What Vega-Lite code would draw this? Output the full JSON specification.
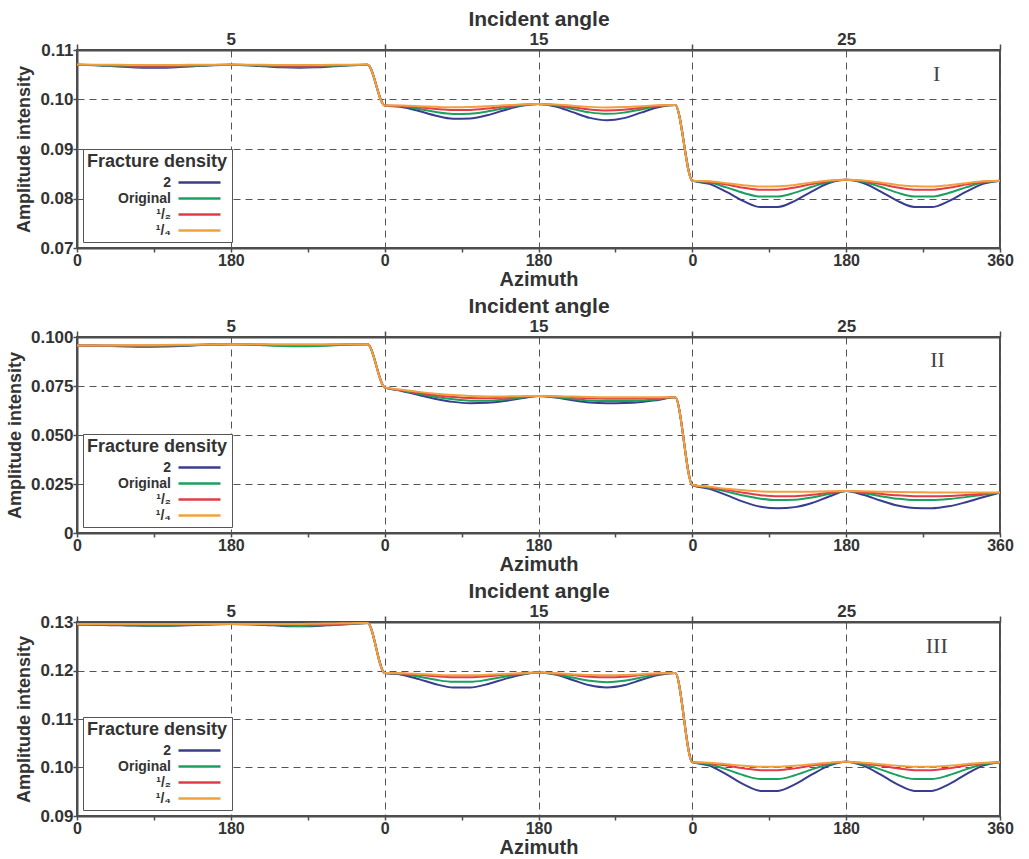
{
"$schema": "https://vega.github.io/schema/vega-lite/v6.json",
"background": "white",
"padding": {"left": 5, "top": 7, "right": 14, "bottom": 0},
"config": {
 "font": "Liberation Sans",
 "view": {"stroke": "#4d4d4d", "strokeWidth": 2},
 "concat": {"spacing": 4},
 "axis": {"domainColor": "#4d4d4d", "domainWidth": 2, "tickColor": "#4d4d4d", "tickWidth": 1.5, "tickSize": 4, "labelColor": "#333", "titleColor": "#333", "labelFont": "Liberation Sans", "titleFont": "Liberation Sans", "labelFontWeight": "bold", "titleFontWeight": "bold", "labelFontSize": 17, "labelPadding": 0, "gridColor": "#555", "gridDash": [7, 5], "gridWidth": 1, "labelOverlap": false, "labelFlush": false},
 "legend": {"orient": "bottom-left", "offset": 6, "titleFontSize": 18, "titleFontWeight": "bold", "titleColor": "#333", "titleFont": "Liberation Sans", "labelFont": "Liberation Sans", "labelFontSize": 14, "labelFontWeight": "bold", "labelColor": "#333", "symbolType": "M-3,0H3", "symbolStrokeWidth": 2.5, "symbolSize": 196, "symbolOffset": 104, "labelAlign": "right", "labelOffset": -37, "strokeColor": "#555", "fillColor": "white", "padding": 4, "rowPadding": 0, "titlePadding": 3}
},
"datasets": {
"p1": [
{"s":"2","x":0,"y":0.107},{"s":"2","x":20,"y":0.10693},{"s":"2","x":40,"y":0.10675},{"s":"2","x":60,"y":0.10655},{"s":"2","x":80,"y":0.10642},{"s":"2","x":100,"y":0.10642},{"s":"2","x":120,"y":0.10655},{"s":"2","x":140,"y":0.10675},{"s":"2","x":160,"y":0.10693},{"s":"2","x":180,"y":0.107},{"s":"2","x":200,"y":0.10691},{"s":"2","x":220,"y":0.1067},{"s":"2","x":240,"y":0.10649},{"s":"2","x":260,"y":0.1064},{"s":"2","x":280,"y":0.10649},{"s":"2","x":300,"y":0.1067},{"s":"2","x":320,"y":0.10691},{"s":"2","x":340,"y":0.107},
{"s":"2","x":360,"y":0.0988},{"s":"2","x":380,"y":0.09849},{"s":"2","x":400,"y":0.09767},{"s":"2","x":420,"y":0.09672},{"s":"2","x":440,"y":0.09612},{"s":"2","x":460,"y":0.09616},{"s":"2","x":480,"y":0.09682},{"s":"2","x":500,"y":0.09783},{"s":"2","x":520,"y":0.09873},{"s":"2","x":540,"y":0.0991},{"s":"2","x":560,"y":0.0986},{"s":"2","x":580,"y":0.09745},{"s":"2","x":600,"y":0.09629},{"s":"2","x":620,"y":0.0958},{"s":"2","x":640,"y":0.09624},{"s":"2","x":660,"y":0.09735},{"s":"2","x":680,"y":0.09845},{"s":"2","x":700,"y":0.0989},
{"s":"2","x":720,"y":0.0836},{"s":"2","x":740,"y":0.08296},{"s":"2","x":760,"y":0.08133},{"s":"2","x":780,"y":0.07947},{"s":"2","x":800,"y":0.07826},{"s":"2","x":820,"y":0.07828},{"s":"2","x":840,"y":0.07953},{"s":"2","x":860,"y":0.08145},{"s":"2","x":880,"y":0.08312},{"s":"2","x":900,"y":0.0838},{"s":"2","x":920,"y":0.08312},{"s":"2","x":940,"y":0.08145},{"s":"2","x":960,"y":0.07953},{"s":"2","x":980,"y":0.07828},{"s":"2","x":1000,"y":0.07826},{"s":"2","x":1020,"y":0.07947},{"s":"2","x":1040,"y":0.08133},{"s":"2","x":1060,"y":0.08296},{"s":"2","x":1080,"y":0.0836},
{"s":"Original","x":0,"y":0.107},{"s":"Original","x":20,"y":0.10695},{"s":"Original","x":40,"y":0.10683},{"s":"Original","x":60,"y":0.1067},{"s":"Original","x":80,"y":0.10661},{"s":"Original","x":100,"y":0.10661},{"s":"Original","x":120,"y":0.1067},{"s":"Original","x":140,"y":0.10683},{"s":"Original","x":160,"y":0.10695},{"s":"Original","x":180,"y":0.107},{"s":"Original","x":200,"y":0.10694},{"s":"Original","x":220,"y":0.1068},{"s":"Original","x":240,"y":0.10666},{"s":"Original","x":260,"y":0.1066},{"s":"Original","x":280,"y":0.10666},{"s":"Original","x":300,"y":0.1068},{"s":"Original","x":320,"y":0.10694},{"s":"Original","x":340,"y":0.107},
{"s":"Original","x":360,"y":0.0988},{"s":"Original","x":380,"y":0.09861},{"s":"Original","x":400,"y":0.09809},{"s":"Original","x":420,"y":0.09747},{"s":"Original","x":440,"y":0.09709},{"s":"Original","x":460,"y":0.09713},{"s":"Original","x":480,"y":0.09757},{"s":"Original","x":500,"y":0.09825},{"s":"Original","x":520,"y":0.09885},{"s":"Original","x":540,"y":0.0991},{"s":"Original","x":560,"y":0.09879},{"s":"Original","x":580,"y":0.0981},{"s":"Original","x":600,"y":0.0974},{"s":"Original","x":620,"y":0.0971},{"s":"Original","x":640,"y":0.09735},{"s":"Original","x":660,"y":0.098},{"s":"Original","x":680,"y":0.09864},{"s":"Original","x":700,"y":0.0989},
{"s":"Original","x":720,"y":0.0836},{"s":"Original","x":740,"y":0.08322},{"s":"Original","x":760,"y":0.08224},{"s":"Original","x":780,"y":0.08112},{"s":"Original","x":800,"y":0.08039},{"s":"Original","x":820,"y":0.08041},{"s":"Original","x":840,"y":0.08118},{"s":"Original","x":860,"y":0.08236},{"s":"Original","x":880,"y":0.08338},{"s":"Original","x":900,"y":0.0838},{"s":"Original","x":920,"y":0.08338},{"s":"Original","x":940,"y":0.08236},{"s":"Original","x":960,"y":0.08118},{"s":"Original","x":980,"y":0.08041},{"s":"Original","x":1000,"y":0.08039},{"s":"Original","x":1020,"y":0.08112},{"s":"Original","x":1040,"y":0.08224},{"s":"Original","x":1060,"y":0.08322},{"s":"Original","x":1080,"y":0.0836},
{"s":"¹/₂","x":0,"y":0.107},{"s":"¹/₂","x":20,"y":0.10698},{"s":"¹/₂","x":40,"y":0.10692},{"s":"¹/₂","x":60,"y":0.10685},{"s":"¹/₂","x":80,"y":0.10681},{"s":"¹/₂","x":100,"y":0.10681},{"s":"¹/₂","x":120,"y":0.10685},{"s":"¹/₂","x":140,"y":0.10692},{"s":"¹/₂","x":160,"y":0.10698},{"s":"¹/₂","x":180,"y":0.107},{"s":"¹/₂","x":200,"y":0.10697},{"s":"¹/₂","x":220,"y":0.1069},{"s":"¹/₂","x":240,"y":0.10683},{"s":"¹/₂","x":260,"y":0.1068},{"s":"¹/₂","x":280,"y":0.10683},{"s":"¹/₂","x":300,"y":0.1069},{"s":"¹/₂","x":320,"y":0.10697},{"s":"¹/₂","x":340,"y":0.107},
{"s":"¹/₂","x":360,"y":0.0988},{"s":"¹/₂","x":380,"y":0.0987},{"s":"¹/₂","x":400,"y":0.09842},{"s":"¹/₂","x":420,"y":0.09807},{"s":"¹/₂","x":440,"y":0.09786},{"s":"¹/₂","x":460,"y":0.0979},{"s":"¹/₂","x":480,"y":0.09817},{"s":"¹/₂","x":500,"y":0.09858},{"s":"¹/₂","x":520,"y":0.09894},{"s":"¹/₂","x":540,"y":0.0991},{"s":"¹/₂","x":560,"y":0.09889},{"s":"¹/₂","x":580,"y":0.09845},{"s":"¹/₂","x":600,"y":0.098},{"s":"¹/₂","x":620,"y":0.0978},{"s":"¹/₂","x":640,"y":0.09795},{"s":"¹/₂","x":660,"y":0.09835},{"s":"¹/₂","x":680,"y":0.09874},{"s":"¹/₂","x":700,"y":0.0989},
{"s":"¹/₂","x":720,"y":0.0836},{"s":"¹/₂","x":740,"y":0.08339},{"s":"¹/₂","x":760,"y":0.08281},{"s":"¹/₂","x":780,"y":0.08217},{"s":"¹/₂","x":800,"y":0.08175},{"s":"¹/₂","x":820,"y":0.08177},{"s":"¹/₂","x":840,"y":0.08223},{"s":"¹/₂","x":860,"y":0.08293},{"s":"¹/₂","x":880,"y":0.08355},{"s":"¹/₂","x":900,"y":0.0838},{"s":"¹/₂","x":920,"y":0.08355},{"s":"¹/₂","x":940,"y":0.08293},{"s":"¹/₂","x":960,"y":0.08223},{"s":"¹/₂","x":980,"y":0.08177},{"s":"¹/₂","x":1000,"y":0.08175},{"s":"¹/₂","x":1020,"y":0.08217},{"s":"¹/₂","x":1040,"y":0.08281},{"s":"¹/₂","x":1060,"y":0.08339},{"s":"¹/₂","x":1080,"y":0.0836},
{"s":"¹/₄","x":0,"y":0.10705},{"s":"¹/₄","x":20,"y":0.10704},{"s":"¹/₄","x":40,"y":0.10701},{"s":"¹/₄","x":60,"y":0.10698},{"s":"¹/₄","x":80,"y":0.10695},{"s":"¹/₄","x":100,"y":0.10695},{"s":"¹/₄","x":120,"y":0.10698},{"s":"¹/₄","x":140,"y":0.10701},{"s":"¹/₄","x":160,"y":0.10704},{"s":"¹/₄","x":180,"y":0.10705},{"s":"¹/₄","x":200,"y":0.10704},{"s":"¹/₄","x":220,"y":0.107},{"s":"¹/₄","x":240,"y":0.10696},{"s":"¹/₄","x":260,"y":0.10695},{"s":"¹/₄","x":280,"y":0.10696},{"s":"¹/₄","x":300,"y":0.107},{"s":"¹/₄","x":320,"y":0.10704},{"s":"¹/₄","x":340,"y":0.10705},
{"s":"¹/₄","x":360,"y":0.0988},{"s":"¹/₄","x":380,"y":0.09877},{"s":"¹/₄","x":400,"y":0.09866},{"s":"¹/₄","x":420,"y":0.09852},{"s":"¹/₄","x":440,"y":0.09844},{"s":"¹/₄","x":460,"y":0.09848},{"s":"¹/₄","x":480,"y":0.09862},{"s":"¹/₄","x":500,"y":0.09882},{"s":"¹/₄","x":520,"y":0.09901},{"s":"¹/₄","x":540,"y":0.0991},{"s":"¹/₄","x":560,"y":0.09898},{"s":"¹/₄","x":580,"y":0.09875},{"s":"¹/₄","x":600,"y":0.09851},{"s":"¹/₄","x":620,"y":0.0984},{"s":"¹/₄","x":640,"y":0.09846},{"s":"¹/₄","x":660,"y":0.09865},{"s":"¹/₄","x":680,"y":0.09883},{"s":"¹/₄","x":700,"y":0.0989},
{"s":"¹/₄","x":720,"y":0.0836},{"s":"¹/₄","x":740,"y":0.08347},{"s":"¹/₄","x":760,"y":0.0831},{"s":"¹/₄","x":780,"y":0.08269},{"s":"¹/₄","x":800,"y":0.08243},{"s":"¹/₄","x":820,"y":0.08245},{"s":"¹/₄","x":840,"y":0.08275},{"s":"¹/₄","x":860,"y":0.08322},{"s":"¹/₄","x":880,"y":0.08363},{"s":"¹/₄","x":900,"y":0.0838},{"s":"¹/₄","x":920,"y":0.08363},{"s":"¹/₄","x":940,"y":0.08322},{"s":"¹/₄","x":960,"y":0.08275},{"s":"¹/₄","x":980,"y":0.08245},{"s":"¹/₄","x":1000,"y":0.08243},{"s":"¹/₄","x":1020,"y":0.08269},{"s":"¹/₄","x":1040,"y":0.0831},{"s":"¹/₄","x":1060,"y":0.08347},{"s":"¹/₄","x":1080,"y":0.0836}
],
"p2": [
{"s":"2","x":0,"y":0.0956},{"s":"2","x":20,"y":0.09557},{"s":"2","x":40,"y":0.09539},{"s":"2","x":60,"y":0.09515},{"s":"2","x":80,"y":0.09504},{"s":"2","x":100,"y":0.09512},{"s":"2","x":120,"y":0.09539},{"s":"2","x":140,"y":0.09577},{"s":"2","x":160,"y":0.09611},{"s":"2","x":180,"y":0.0963},{"s":"2","x":200,"y":0.09618},{"s":"2","x":220,"y":0.0959},{"s":"2","x":240,"y":0.09562},{"s":"2","x":260,"y":0.0955},{"s":"2","x":280,"y":0.09562},{"s":"2","x":300,"y":0.0959},{"s":"2","x":320,"y":0.09618},{"s":"2","x":340,"y":0.0963},
{"s":"2","x":360,"y":0.0743},{"s":"2","x":380,"y":0.0725},{"s":"2","x":400,"y":0.0704},{"s":"2","x":420,"y":0.0684},{"s":"2","x":440,"y":0.0669},{"s":"2","x":460,"y":0.0662},{"s":"2","x":480,"y":0.0664},{"s":"2","x":500,"y":0.0673},{"s":"2","x":520,"y":0.0687},{"s":"2","x":540,"y":0.0699},{"s":"2","x":560,"y":0.0691},{"s":"2","x":580,"y":0.0677},{"s":"2","x":600,"y":0.0666},{"s":"2","x":620,"y":0.0662},{"s":"2","x":640,"y":0.0663},{"s":"2","x":660,"y":0.0668},{"s":"2","x":680,"y":0.0679},{"s":"2","x":700,"y":0.0692},
{"s":"2","x":720,"y":0.0245},{"s":"2","x":740,"y":0.0225},{"s":"2","x":760,"y":0.0193},{"s":"2","x":780,"y":0.0159},{"s":"2","x":800,"y":0.0134},{"s":"2","x":820,"y":0.0126},{"s":"2","x":840,"y":0.0132},{"s":"2","x":860,"y":0.0153},{"s":"2","x":880,"y":0.0186},{"s":"2","x":900,"y":0.0214},{"s":"2","x":920,"y":0.0195},{"s":"2","x":940,"y":0.0166},{"s":"2","x":960,"y":0.014},{"s":"2","x":980,"y":0.0127},{"s":"2","x":1000,"y":0.0126},{"s":"2","x":1020,"y":0.0136},{"s":"2","x":1040,"y":0.0157},{"s":"2","x":1060,"y":0.0182},{"s":"2","x":1080,"y":0.0206},
{"s":"Original","x":0,"y":0.0956},{"s":"Original","x":20,"y":0.09561},{"s":"Original","x":40,"y":0.09551},{"s":"Original","x":60,"y":0.09538},{"s":"Original","x":80,"y":0.09533},{"s":"Original","x":100,"y":0.09541},{"s":"Original","x":120,"y":0.09562},{"s":"Original","x":140,"y":0.09589},{"s":"Original","x":160,"y":0.09615},{"s":"Original","x":180,"y":0.0963},{"s":"Original","x":200,"y":0.09615},{"s":"Original","x":220,"y":0.0958},{"s":"Original","x":240,"y":0.09545},{"s":"Original","x":260,"y":0.0953},{"s":"Original","x":280,"y":0.09545},{"s":"Original","x":300,"y":0.0958},{"s":"Original","x":320,"y":0.09615},{"s":"Original","x":340,"y":0.0963},
{"s":"Original","x":360,"y":0.0743},{"s":"Original","x":380,"y":0.0727},{"s":"Original","x":400,"y":0.071},{"s":"Original","x":420,"y":0.0694},{"s":"Original","x":440,"y":0.0682},{"s":"Original","x":460,"y":0.0675},{"s":"Original","x":480,"y":0.0675},{"s":"Original","x":500,"y":0.0681},{"s":"Original","x":520,"y":0.0691},{"s":"Original","x":540,"y":0.0699},{"s":"Original","x":560,"y":0.0694},{"s":"Original","x":580,"y":0.0684},{"s":"Original","x":600,"y":0.0676},{"s":"Original","x":620,"y":0.0673},{"s":"Original","x":640,"y":0.0673},{"s":"Original","x":660,"y":0.0676},{"s":"Original","x":680,"y":0.0683},{"s":"Original","x":700,"y":0.0692},
{"s":"Original","x":720,"y":0.0245},{"s":"Original","x":740,"y":0.0231},{"s":"Original","x":760,"y":0.0211},{"s":"Original","x":780,"y":0.0191},{"s":"Original","x":800,"y":0.0175},{"s":"Original","x":820,"y":0.0168},{"s":"Original","x":840,"y":0.017},{"s":"Original","x":860,"y":0.0181},{"s":"Original","x":880,"y":0.0199},{"s":"Original","x":900,"y":0.0214},{"s":"Original","x":920,"y":0.0204},{"s":"Original","x":940,"y":0.0188},{"s":"Original","x":960,"y":0.0175},{"s":"Original","x":980,"y":0.0168},{"s":"Original","x":1000,"y":0.0168},{"s":"Original","x":1020,"y":0.0173},{"s":"Original","x":1040,"y":0.0183},{"s":"Original","x":1060,"y":0.0195},{"s":"Original","x":1080,"y":0.0206},
{"s":"¹/₂","x":0,"y":0.0956},{"s":"¹/₂","x":20,"y":0.09564},{"s":"¹/₂","x":40,"y":0.09564},{"s":"¹/₂","x":60,"y":0.0956},{"s":"¹/₂","x":80,"y":0.09562},{"s":"¹/₂","x":100,"y":0.0957},{"s":"¹/₂","x":120,"y":0.09584},{"s":"¹/₂","x":140,"y":0.09602},{"s":"¹/₂","x":160,"y":0.09618},{"s":"¹/₂","x":180,"y":0.0963},{"s":"¹/₂","x":200,"y":0.09626},{"s":"¹/₂","x":220,"y":0.09615},{"s":"¹/₂","x":240,"y":0.09604},{"s":"¹/₂","x":260,"y":0.096},{"s":"¹/₂","x":280,"y":0.09604},{"s":"¹/₂","x":300,"y":0.09615},{"s":"¹/₂","x":320,"y":0.09626},{"s":"¹/₂","x":340,"y":0.0963},
{"s":"¹/₂","x":360,"y":0.0743},{"s":"¹/₂","x":380,"y":0.0729},{"s":"¹/₂","x":400,"y":0.0715},{"s":"¹/₂","x":420,"y":0.0703},{"s":"¹/₂","x":440,"y":0.0694},{"s":"¹/₂","x":460,"y":0.0689},{"s":"¹/₂","x":480,"y":0.0688},{"s":"¹/₂","x":500,"y":0.069},{"s":"¹/₂","x":520,"y":0.0695},{"s":"¹/₂","x":540,"y":0.0699},{"s":"¹/₂","x":560,"y":0.0696},{"s":"¹/₂","x":580,"y":0.0691},{"s":"¹/₂","x":600,"y":0.0687},{"s":"¹/₂","x":620,"y":0.0685},{"s":"¹/₂","x":640,"y":0.0685},{"s":"¹/₂","x":660,"y":0.0686},{"s":"¹/₂","x":680,"y":0.0689},{"s":"¹/₂","x":700,"y":0.0692},
{"s":"¹/₂","x":720,"y":0.0245},{"s":"¹/₂","x":740,"y":0.0234},{"s":"¹/₂","x":760,"y":0.022},{"s":"¹/₂","x":780,"y":0.0205},{"s":"¹/₂","x":800,"y":0.0193},{"s":"¹/₂","x":820,"y":0.0187},{"s":"¹/₂","x":840,"y":0.0188},{"s":"¹/₂","x":860,"y":0.0195},{"s":"¹/₂","x":880,"y":0.0206},{"s":"¹/₂","x":900,"y":0.0214},{"s":"¹/₂","x":920,"y":0.0209},{"s":"¹/₂","x":940,"y":0.02},{"s":"¹/₂","x":960,"y":0.0192},{"s":"¹/₂","x":980,"y":0.0188},{"s":"¹/₂","x":1000,"y":0.0187},{"s":"¹/₂","x":1020,"y":0.0189},{"s":"¹/₂","x":1040,"y":0.0194},{"s":"¹/₂","x":1060,"y":0.02},{"s":"¹/₂","x":1080,"y":0.0206},
{"s":"¹/₄","x":0,"y":0.0956},{"s":"¹/₄","x":20,"y":0.09567},{"s":"¹/₄","x":40,"y":0.09572},{"s":"¹/₄","x":60,"y":0.09575},{"s":"¹/₄","x":80,"y":0.09581},{"s":"¹/₄","x":100,"y":0.09589},{"s":"¹/₄","x":120,"y":0.09599},{"s":"¹/₄","x":140,"y":0.0961},{"s":"¹/₄","x":160,"y":0.09621},{"s":"¹/₄","x":180,"y":0.0963},{"s":"¹/₄","x":200,"y":0.09629},{"s":"¹/₄","x":220,"y":0.09625},{"s":"¹/₄","x":240,"y":0.09621},{"s":"¹/₄","x":260,"y":0.0962},{"s":"¹/₄","x":280,"y":0.09621},{"s":"¹/₄","x":300,"y":0.09625},{"s":"¹/₄","x":320,"y":0.09629},{"s":"¹/₄","x":340,"y":0.0963},
{"s":"¹/₄","x":360,"y":0.0743},{"s":"¹/₄","x":380,"y":0.0731},{"s":"¹/₄","x":400,"y":0.072},{"s":"¹/₄","x":420,"y":0.0711},{"s":"¹/₄","x":440,"y":0.0704},{"s":"¹/₄","x":460,"y":0.0699},{"s":"¹/₄","x":480,"y":0.0697},{"s":"¹/₄","x":500,"y":0.0697},{"s":"¹/₄","x":520,"y":0.0698},{"s":"¹/₄","x":540,"y":0.0699},{"s":"¹/₄","x":560,"y":0.0698},{"s":"¹/₄","x":580,"y":0.0696},{"s":"¹/₄","x":600,"y":0.0694},{"s":"¹/₄","x":620,"y":0.0693},{"s":"¹/₄","x":640,"y":0.0693},{"s":"¹/₄","x":660,"y":0.0693},{"s":"¹/₄","x":680,"y":0.0692},{"s":"¹/₄","x":700,"y":0.0692},
{"s":"¹/₄","x":720,"y":0.0245},{"s":"¹/₄","x":740,"y":0.0236},{"s":"¹/₄","x":760,"y":0.0226},{"s":"¹/₄","x":780,"y":0.0218},{"s":"¹/₄","x":800,"y":0.0212},{"s":"¹/₄","x":820,"y":0.021},{"s":"¹/₄","x":840,"y":0.021},{"s":"¹/₄","x":860,"y":0.0211},{"s":"¹/₄","x":880,"y":0.0213},{"s":"¹/₄","x":900,"y":0.0214},{"s":"¹/₄","x":920,"y":0.0213},{"s":"¹/₄","x":940,"y":0.0211},{"s":"¹/₄","x":960,"y":0.0209},{"s":"¹/₄","x":980,"y":0.0208},{"s":"¹/₄","x":1000,"y":0.0207},{"s":"¹/₄","x":1020,"y":0.0207},{"s":"¹/₄","x":1040,"y":0.0207},{"s":"¹/₄","x":1060,"y":0.0206},{"s":"¹/₄","x":1080,"y":0.0206}
],
"p3": [
{"s":"2","x":0,"y":0.1295},{"s":"2","x":20,"y":0.12945},{"s":"2","x":40,"y":0.12935},{"s":"2","x":60,"y":0.1293},{"s":"2","x":80,"y":0.12925},{"s":"2","x":100,"y":0.12925},{"s":"2","x":120,"y":0.1293},{"s":"2","x":140,"y":0.1294},{"s":"2","x":160,"y":0.12955},{"s":"2","x":180,"y":0.1296},{"s":"2","x":200,"y":0.12955},{"s":"2","x":220,"y":0.1294},{"s":"2","x":240,"y":0.1292},{"s":"2","x":260,"y":0.1291},{"s":"2","x":280,"y":0.1292},{"s":"2","x":300,"y":0.1294},{"s":"2","x":320,"y":0.1296},{"s":"2","x":340,"y":0.1298},
{"s":"2","x":360,"y":0.1195},{"s":"2","x":380,"y":0.11914},{"s":"2","x":400,"y":0.11822},{"s":"2","x":420,"y":0.11717},{"s":"2","x":440,"y":0.11649},{"s":"2","x":460,"y":0.11649},{"s":"2","x":480,"y":0.11717},{"s":"2","x":500,"y":0.11822},{"s":"2","x":520,"y":0.11914},{"s":"2","x":540,"y":0.1196},{"s":"2","x":560,"y":0.11915},{"s":"2","x":580,"y":0.11805},{"s":"2","x":600,"y":0.11695},{"s":"2","x":620,"y":0.1165},{"s":"2","x":640,"y":0.11695},{"s":"2","x":660,"y":0.11805},{"s":"2","x":680,"y":0.11905},{"s":"2","x":700,"y":0.1195},
{"s":"2","x":720,"y":0.1011},{"s":"2","x":740,"y":0.10039},{"s":"2","x":760,"y":0.09858},{"s":"2","x":780,"y":0.09652},{"s":"2","x":800,"y":0.09518},{"s":"2","x":820,"y":0.09518},{"s":"2","x":840,"y":0.09652},{"s":"2","x":860,"y":0.09858},{"s":"2","x":880,"y":0.10039},{"s":"2","x":900,"y":0.1012},{"s":"2","x":920,"y":0.10039},{"s":"2","x":940,"y":0.09858},{"s":"2","x":960,"y":0.09652},{"s":"2","x":980,"y":0.09518},{"s":"2","x":1000,"y":0.09518},{"s":"2","x":1020,"y":0.09652},{"s":"2","x":1040,"y":0.09858},{"s":"2","x":1060,"y":0.10039},{"s":"2","x":1080,"y":0.1011},
{"s":"Original","x":0,"y":0.1295},{"s":"Original","x":20,"y":0.1295},{"s":"Original","x":40,"y":0.1294},{"s":"Original","x":60,"y":0.12935},{"s":"Original","x":80,"y":0.1293},{"s":"Original","x":100,"y":0.1293},{"s":"Original","x":120,"y":0.12935},{"s":"Original","x":140,"y":0.12945},{"s":"Original","x":160,"y":0.12955},{"s":"Original","x":180,"y":0.1296},{"s":"Original","x":200,"y":0.12955},{"s":"Original","x":220,"y":0.12945},{"s":"Original","x":240,"y":0.1293},{"s":"Original","x":260,"y":0.1292},{"s":"Original","x":280,"y":0.1293},{"s":"Original","x":300,"y":0.12945},{"s":"Original","x":320,"y":0.1296},{"s":"Original","x":340,"y":0.1298},
{"s":"Original","x":360,"y":0.1195},{"s":"Original","x":380,"y":0.11928},{"s":"Original","x":400,"y":0.11872},{"s":"Original","x":420,"y":0.11807},{"s":"Original","x":440,"y":0.11766},{"s":"Original","x":460,"y":0.11766},{"s":"Original","x":480,"y":0.11807},{"s":"Original","x":500,"y":0.11872},{"s":"Original","x":520,"y":0.11928},{"s":"Original","x":540,"y":0.1196},{"s":"Original","x":560,"y":0.11922},{"s":"Original","x":580,"y":0.11855},{"s":"Original","x":600,"y":0.11788},{"s":"Original","x":620,"y":0.1176},{"s":"Original","x":640,"y":0.11788},{"s":"Original","x":660,"y":0.11855},{"s":"Original","x":680,"y":0.11922},{"s":"Original","x":700,"y":0.1195},
{"s":"Original","x":720,"y":0.1011},{"s":"Original","x":740,"y":0.10068},{"s":"Original","x":760,"y":0.09961},{"s":"Original","x":780,"y":0.0984},{"s":"Original","x":800,"y":0.09761},{"s":"Original","x":820,"y":0.09761},{"s":"Original","x":840,"y":0.0984},{"s":"Original","x":860,"y":0.09961},{"s":"Original","x":880,"y":0.10068},{"s":"Original","x":900,"y":0.1012},{"s":"Original","x":920,"y":0.10068},{"s":"Original","x":940,"y":0.09961},{"s":"Original","x":960,"y":0.0984},{"s":"Original","x":980,"y":0.09761},{"s":"Original","x":1000,"y":0.09761},{"s":"Original","x":1020,"y":0.0984},{"s":"Original","x":1040,"y":0.09961},{"s":"Original","x":1060,"y":0.10068},{"s":"Original","x":1080,"y":0.1011},
{"s":"¹/₂","x":0,"y":0.1295},{"s":"¹/₂","x":20,"y":0.1295},{"s":"¹/₂","x":40,"y":0.12945},{"s":"¹/₂","x":60,"y":0.1294},{"s":"¹/₂","x":80,"y":0.1294},{"s":"¹/₂","x":100,"y":0.1294},{"s":"¹/₂","x":120,"y":0.1294},{"s":"¹/₂","x":140,"y":0.1295},{"s":"¹/₂","x":160,"y":0.12955},{"s":"¹/₂","x":180,"y":0.1296},{"s":"¹/₂","x":200,"y":0.1296},{"s":"¹/₂","x":220,"y":0.12955},{"s":"¹/₂","x":240,"y":0.1295},{"s":"¹/₂","x":260,"y":0.1294},{"s":"¹/₂","x":280,"y":0.1295},{"s":"¹/₂","x":300,"y":0.12955},{"s":"¹/₂","x":320,"y":0.1297},{"s":"¹/₂","x":340,"y":0.1298},
{"s":"¹/₂","x":360,"y":0.1195},{"s":"¹/₂","x":380,"y":0.11939},{"s":"¹/₂","x":400,"y":0.11913},{"s":"¹/₂","x":420,"y":0.11882},{"s":"¹/₂","x":440,"y":0.11863},{"s":"¹/₂","x":460,"y":0.11863},{"s":"¹/₂","x":480,"y":0.11882},{"s":"¹/₂","x":500,"y":0.11913},{"s":"¹/₂","x":520,"y":0.11939},{"s":"¹/₂","x":540,"y":0.1196},{"s":"¹/₂","x":560,"y":0.11937},{"s":"¹/₂","x":580,"y":0.11905},{"s":"¹/₂","x":600,"y":0.11873},{"s":"¹/₂","x":620,"y":0.1186},{"s":"¹/₂","x":640,"y":0.11873},{"s":"¹/₂","x":660,"y":0.11905},{"s":"¹/₂","x":680,"y":0.11937},{"s":"¹/₂","x":700,"y":0.1195},
{"s":"¹/₂","x":720,"y":0.1011},{"s":"¹/₂","x":740,"y":0.1009},{"s":"¹/₂","x":760,"y":0.1004},{"s":"¹/₂","x":780,"y":0.09982},{"s":"¹/₂","x":800,"y":0.09945},{"s":"¹/₂","x":820,"y":0.09945},{"s":"¹/₂","x":840,"y":0.09982},{"s":"¹/₂","x":860,"y":0.1004},{"s":"¹/₂","x":880,"y":0.1009},{"s":"¹/₂","x":900,"y":0.1012},{"s":"¹/₂","x":920,"y":0.1009},{"s":"¹/₂","x":940,"y":0.1004},{"s":"¹/₂","x":960,"y":0.09982},{"s":"¹/₂","x":980,"y":0.09945},{"s":"¹/₂","x":1000,"y":0.09945},{"s":"¹/₂","x":1020,"y":0.09982},{"s":"¹/₂","x":1040,"y":0.1004},{"s":"¹/₂","x":1060,"y":0.1009},{"s":"¹/₂","x":1080,"y":0.1011},
{"s":"¹/₄","x":0,"y":0.1296},{"s":"¹/₄","x":20,"y":0.1296},{"s":"¹/₄","x":40,"y":0.1296},{"s":"¹/₄","x":60,"y":0.1296},{"s":"¹/₄","x":80,"y":0.1296},{"s":"¹/₄","x":100,"y":0.1296},{"s":"¹/₄","x":120,"y":0.1296},{"s":"¹/₄","x":140,"y":0.1296},{"s":"¹/₄","x":160,"y":0.1296},{"s":"¹/₄","x":180,"y":0.1296},{"s":"¹/₄","x":200,"y":0.1296},{"s":"¹/₄","x":220,"y":0.1296},{"s":"¹/₄","x":240,"y":0.1296},{"s":"¹/₄","x":260,"y":0.1296},{"s":"¹/₄","x":280,"y":0.12965},{"s":"¹/₄","x":300,"y":0.1297},{"s":"¹/₄","x":320,"y":0.12975},{"s":"¹/₄","x":340,"y":0.1298},
{"s":"¹/₄","x":360,"y":0.1195},{"s":"¹/₄","x":380,"y":0.11944},{"s":"¹/₄","x":400,"y":0.11929},{"s":"¹/₄","x":420,"y":0.11912},{"s":"¹/₄","x":440,"y":0.11901},{"s":"¹/₄","x":460,"y":0.11901},{"s":"¹/₄","x":480,"y":0.11912},{"s":"¹/₄","x":500,"y":0.11929},{"s":"¹/₄","x":520,"y":0.11944},{"s":"¹/₄","x":540,"y":0.1196},{"s":"¹/₄","x":560,"y":0.11943},{"s":"¹/₄","x":580,"y":0.11925},{"s":"¹/₄","x":600,"y":0.11907},{"s":"¹/₄","x":620,"y":0.119},{"s":"¹/₄","x":640,"y":0.11907},{"s":"¹/₄","x":660,"y":0.11925},{"s":"¹/₄","x":680,"y":0.11943},{"s":"¹/₄","x":700,"y":0.1195},
{"s":"¹/₄","x":720,"y":0.1011},{"s":"¹/₄","x":740,"y":0.10098},{"s":"¹/₄","x":760,"y":0.10069},{"s":"¹/₄","x":780,"y":0.10035},{"s":"¹/₄","x":800,"y":0.10013},{"s":"¹/₄","x":820,"y":0.10013},{"s":"¹/₄","x":840,"y":0.10035},{"s":"¹/₄","x":860,"y":0.10069},{"s":"¹/₄","x":880,"y":0.10098},{"s":"¹/₄","x":900,"y":0.1012},{"s":"¹/₄","x":920,"y":0.10098},{"s":"¹/₄","x":940,"y":0.10069},{"s":"¹/₄","x":960,"y":0.10035},{"s":"¹/₄","x":980,"y":0.10013},{"s":"¹/₄","x":1000,"y":0.10013},{"s":"¹/₄","x":1020,"y":0.10035},{"s":"¹/₄","x":1040,"y":0.10069},{"s":"¹/₄","x":1060,"y":0.10098},{"s":"¹/₄","x":1080,"y":0.1011}
]
},
"resolve": {"scale": {"x": "independent", "y": "independent", "color": "independent"}, "legend": {"color": "independent"}},
"vconcat": [
{
 "width": 923, "height": 198,
 "resolve": {"axis": {"x": "independent"}},
 "layer": [
  {
   "data": {"name": "p1"},
   "mark": {"type": "line", "strokeWidth": 2, "interpolate": "monotone"},
   "encoding": {
    "x": {"field": "x", "type": "quantitative", "scale": {"domain": [0, 1080], "nice": false, "zero": false},
     "axis": {"orient": "bottom", "title": "Azimuth", "titleFontSize": 20, "titlePadding": 1, "labelFontSize": 16, "values": [0,90,180,270,360,450,540,630,720,810,900,990,1080], "labelExpr": "datum.value % 180 != 0 ? '' : (datum.value == 1080 ? '360' : (datum.value % 360 == 0 ? '0' : '180'))", "grid": true, "gridOpacity": {"condition": {"test": "datum.value % 180 == 0", "value": 1}, "value": 0}}},
    "y": {"field": "y", "type": "quantitative", "scale": {"domain": [0.07, 0.11], "nice": false, "zero": false},
     "axis": {"title": "Amplitude intensity", "titleFontSize": 18, "titlePadding": 6, "values": [0.07,0.075,0.08,0.085,0.09,0.095,0.1,0.105,0.11], "labelExpr": "abs(datum.value*100 - round(datum.value*100)) < 0.001 ? format(datum.value, '.2f') : ''", "grid": true, "gridOpacity": {"condition": {"test": "abs(datum.value*100 - round(datum.value*100)) < 0.001", "value": 1}, "value": 0}}},
    "color": {"field": "s", "type": "nominal", "scale": {"domain": ["2", "Original", "¹/₂", "¹/₄"], "range": ["#383d8e", "#1ba05e", "#e23c4a", "#f2a03c"]}, "legend": {"title": "Fracture density"}}
   }
  },
  {
   "data": {"values": [{"x": 1006, "y": 0.10515, "t": "I"}]},
   "mark": {"type": "text", "font": "Liberation Serif", "fontSize": 22, "color": "#444"},
   "encoding": {
    "x": {"field": "x", "type": "quantitative",
     "axis": {"orient": "top", "title": "Incident angle", "titleFontSize": 21, "titlePadding": 1, "values": [0,180,360,540,720,900,1080], "labelExpr": "datum.value == 180 ? '5' : (datum.value == 540 ? '15' : (datum.value == 900 ? '25' : ''))", "grid": false, "tickSize": 6, "labelPadding": -4, "tickOpacity": {"condition": {"test": "datum.value % 360 == 0", "value": 1}, "value": 0}}},
    "y": {"field": "y", "type": "quantitative"},
    "text": {"field": "t"}
   }
  }
 ]
},
{
 "width": 923, "height": 196,
 "resolve": {"axis": {"x": "independent"}},
 "layer": [
  {
   "data": {"name": "p2"},
   "mark": {"type": "line", "strokeWidth": 2, "interpolate": "monotone"},
   "encoding": {
    "x": {"field": "x", "type": "quantitative", "scale": {"domain": [0, 1080], "nice": false, "zero": false},
     "axis": {"orient": "bottom", "title": "Azimuth", "titleFontSize": 20, "titlePadding": 1, "labelFontSize": 16, "values": [0,90,180,270,360,450,540,630,720,810,900,990,1080], "labelExpr": "datum.value % 180 != 0 ? '' : (datum.value == 1080 ? '360' : (datum.value % 360 == 0 ? '0' : '180'))", "grid": true, "gridOpacity": {"condition": {"test": "datum.value % 180 == 0", "value": 1}, "value": 0}}},
    "y": {"field": "y", "type": "quantitative", "scale": {"domain": [0, 0.1], "nice": false, "zero": false},
     "axis": {"title": "Amplitude intensity", "titleFontSize": 18, "titlePadding": 6, "values": [0,0.0125,0.025,0.0375,0.05,0.0625,0.075,0.0875,0.1], "labelExpr": "abs(datum.value*40 - round(datum.value*40)) < 0.001 ? (datum.value == 0 ? '0' : format(datum.value, '.3f')) : ''", "grid": true, "gridOpacity": {"condition": {"test": "abs(datum.value*40 - round(datum.value*40)) < 0.001", "value": 1}, "value": 0}}},
    "color": {"field": "s", "type": "nominal", "scale": {"domain": ["2", "Original", "¹/₂", "¹/₄"], "range": ["#383d8e", "#1ba05e", "#e23c4a", "#f2a03c"]}, "legend": {"title": "Fracture density"}}
   }
  },
  {
   "data": {"values": [{"x": 1007, "y": 0.0883, "t": "II"}]},
   "mark": {"type": "text", "font": "Liberation Serif", "fontSize": 22, "color": "#444"},
   "encoding": {
    "x": {"field": "x", "type": "quantitative",
     "axis": {"orient": "top", "title": "Incident angle", "titleFontSize": 21, "titlePadding": 1, "values": [0,180,360,540,720,900,1080], "labelExpr": "datum.value == 180 ? '5' : (datum.value == 540 ? '15' : (datum.value == 900 ? '25' : ''))", "grid": false, "tickSize": 6, "labelPadding": -4, "tickOpacity": {"condition": {"test": "datum.value % 360 == 0", "value": 1}, "value": 0}}},
    "y": {"field": "y", "type": "quantitative"},
    "text": {"field": "t"}
   }
  }
 ]
},
{
 "width": 923, "height": 194,
 "resolve": {"axis": {"x": "independent"}},
 "layer": [
  {
   "data": {"name": "p3"},
   "mark": {"type": "line", "strokeWidth": 2, "interpolate": "monotone"},
   "encoding": {
    "x": {"field": "x", "type": "quantitative", "scale": {"domain": [0, 1080], "nice": false, "zero": false},
     "axis": {"orient": "bottom", "title": "Azimuth", "titleFontSize": 20, "titlePadding": 1, "labelFontSize": 16, "values": [0,90,180,270,360,450,540,630,720,810,900,990,1080], "labelExpr": "datum.value % 180 != 0 ? '' : (datum.value == 1080 ? '360' : (datum.value % 360 == 0 ? '0' : '180'))", "grid": true, "gridOpacity": {"condition": {"test": "datum.value % 180 == 0", "value": 1}, "value": 0}}},
    "y": {"field": "y", "type": "quantitative", "scale": {"domain": [0.09, 0.13], "nice": false, "zero": false},
     "axis": {"title": "Amplitude intensity", "titleFontSize": 18, "titlePadding": 6, "values": [0.09,0.095,0.1,0.105,0.11,0.115,0.12,0.125,0.13], "labelExpr": "abs(datum.value*100 - round(datum.value*100)) < 0.001 ? format(datum.value, '.2f') : ''", "grid": true, "gridOpacity": {"condition": {"test": "abs(datum.value*100 - round(datum.value*100)) < 0.001", "value": 1}, "value": 0}}},
    "color": {"field": "s", "type": "nominal", "scale": {"domain": ["2", "Original", "¹/₂", "¹/₄"], "range": ["#383d8e", "#1ba05e", "#e23c4a", "#f2a03c"]}, "legend": {"title": "Fracture density"}}
   }
  },
  {
   "data": {"values": [{"x": 1006, "y": 0.12514, "t": "III"}]},
   "mark": {"type": "text", "font": "Liberation Serif", "fontSize": 22, "color": "#444"},
   "encoding": {
    "x": {"field": "x", "type": "quantitative",
     "axis": {"orient": "top", "title": "Incident angle", "titleFontSize": 21, "titlePadding": 1, "values": [0,180,360,540,720,900,1080], "labelExpr": "datum.value == 180 ? '5' : (datum.value == 540 ? '15' : (datum.value == 900 ? '25' : ''))", "grid": false, "tickSize": 6, "labelPadding": -4, "tickOpacity": {"condition": {"test": "datum.value % 360 == 0", "value": 1}, "value": 0}}},
    "y": {"field": "y", "type": "quantitative"},
    "text": {"field": "t"}
   }
  }
 ]
}
]
}
